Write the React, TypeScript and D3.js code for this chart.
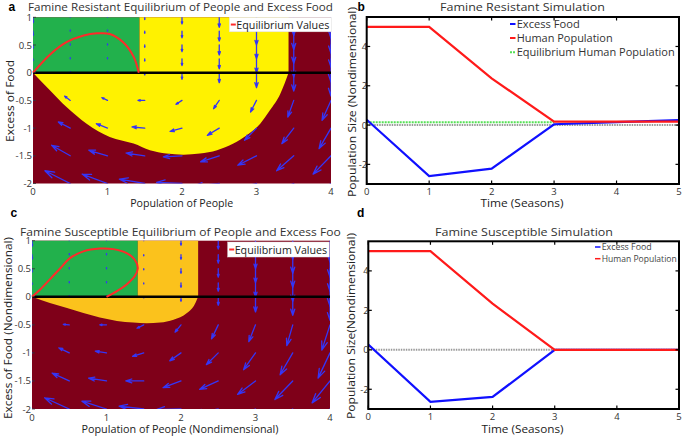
import React from "react";
import * as d3 from "d3";

const FONT = "'Open Sans', 'DejaVu Sans', Arial, sans-serif";

// ---- tick values ----
const phaseXTicks = [0, 1, 2, 3, 4];
const phaseYTicks = [1, 0.5, 0, -0.5, -1, -1.5, -2];
const simXTicks = [0, 1, 2, 3, 4, 5];
const simYTicks = [-2, 0, 2, 4];

// ---- simulation series ----
const seasons = [0, 1, 2, 3, 4, 5];
const resistantFood = [0.27, -2.6, -2.22, 0.04, 0.15, 0.25];
const resistantPeople = [5, 5, 2.38, 0.17, 0.17, 0.17];
const resistantEqSeasons = [0, 3];
const resistantEqPeople = [0.14, 0.14];
const susceptibleFood = [0.27, -2.64, -2.39, 0, 0, 0];
const susceptiblePeople = [5, 5, 2.34, 0, 0, 0];

// ---- phase plane regions ----
const resistantGreenEdge = 1.43;
const resistantYellowEdge = 3.43;
const resistantBasinX = [0, 0.23, 0.45, 0.72, 1.03, 1.35, 1.57, 1.79, 2.02, 2.24, 2.47, 2.69, 2.87, 3.05, 3.18, 3.32, 3.43];
const resistantBasinY = [0, -0.32, -0.62, -0.92, -1.16, -1.28, -1.4, -1.46, -1.48, -1.46, -1.4, -1.28, -1.13, -0.92, -0.68, -0.38, 0];
const resistantEqX = [0, 0.23, 0.45, 0.68, 0.86, 1.03, 1.21, 1.35, 1.42];
const resistantEqY = [0, 0.33, 0.55, 0.67, 0.71, 0.7, 0.55, 0.29, 0];

const susceptibleGreenEdge = 1.42;
const susceptibleOrangeEdge = 2.23;
const susceptibleBasinX = [0, 0.24, 0.47, 0.69, 0.91, 1.14, 1.36, 1.54, 1.72, 1.9, 2.08, 2.17, 2.23];
const susceptibleBasinY = [0, -0.11, -0.2, -0.29, -0.37, -0.43, -0.46, -0.47, -0.46, -0.41, -0.29, -0.17, 0];
const susceptibleEqX = [0, 0.11, 0.24, 0.38, 0.51, 0.69, 0.91, 1.09, 1.27, 1.38, 1.42, 1.38, 1.27, 1.14, 1.0];
const susceptibleEqY = [0, 0.13, 0.31, 0.51, 0.69, 0.81, 0.86, 0.85, 0.78, 0.66, 0.51, 0.37, 0.22, 0.1, 0];

// ---- quiver field ----
const fieldX = [0, 0.5, 1, 1.5, 2, 2.5, 3, 3.5, 4];
const fieldY = [1, 0.75, 0.5, 0.25, 0, -0.5, -1, -1.5, -2];
const resistantU = [
  [0, 0, 0, 0, 0, 0, 0, 0, 0],
  [0, 0, 0, 0, 0, 0, 0, 0, 0],
  [0, 0, 0, 0, 0, 0, 0, 0, 0],
  [0, 0, 0, 0, 0, 0, 0, 0, 0],
  [0, 0, 0, 0, 0, 0, 0, 0, 0],
  [-0.08, -0.076, -0.076, -0.09, -0.08, -0.076, -0.08, -0.08, -0.12],
  [-0.16, -0.16, -0.15, -0.17, -0.16, -0.16, -0.16, -0.16, -0.16],
  [-0.25, -0.25, -0.25, -0.25, -0.25, -0.25, -0.25, -0.23, -0.24],
  [-0.34, -0.34, -0.34, -0.34, -0.34, -0.34, -0.34, -0.34, -0.34],
];
const resistantV = [
  [-0.1, 0.02, 0.02, -0.04, -0.12, -0.18, -0.25, -0.33, -0.38],
  [-0.08, 0.02, 0.02, -0.04, -0.12, -0.18, -0.25, -0.33, -0.4],
  [-0.06, 0.02, 0.02, -0.04, -0.12, -0.18, -0.25, -0.33, -0.4],
  [-0.03, 0.02, 0.02, -0.04, -0.12, -0.18, -0.25, -0.33, -0.42],
  [0, 0.02, 0.02, -0.04, -0.12, -0.18, -0.27, -0.33, -0.42],
  [0.1, 0.078, 0.05, 0, -0.07, -0.15, -0.21, -0.3, -0.36],
  [0.14, 0.11, 0.08, 0.02, -0.06, -0.13, -0.22, -0.28, -0.37],
  [0.24, 0.19, 0.1, 0.05, -0.02, -0.11, -0.17, -0.27, -0.33],
  [0.3, 0.23, 0.17, 0.08, 0.02, -0.05, -0.12, -0.2, -0.28],
];
const susceptibleU = [
  [0, 0, 0, 0, 0, 0, 0, 0, 0],
  [0, 0, 0, 0, 0, 0, 0, 0, 0],
  [0, 0, 0, 0, 0, 0, 0, 0, 0],
  [0, 0, 0, 0, 0, 0, 0, 0, 0],
  [0, 0, 0, 0, 0, 0, 0, 0, 0],
  [-0.08, -0.08, -0.09, -0.09, -0.08, -0.09, -0.09, -0.08, -0.11],
  [-0.15, -0.14, -0.15, -0.15, -0.15, -0.16, -0.16, -0.17, -0.16],
  [-0.24, -0.23, -0.24, -0.24, -0.24, -0.25, -0.24, -0.24, -0.24],
  [-0.33, -0.33, -0.33, -0.33, -0.33, -0.33, -0.33, -0.33, -0.33],
];
const susceptibleV = [
  [-0.1, 0.02, 0.02, 0.02, -0.08, -0.15, -0.25, -0.33, -0.38],
  [-0.08, 0.02, 0.02, -0.02, -0.08, -0.15, -0.25, -0.33, -0.4],
  [-0.06, 0.02, 0.02, -0.02, -0.08, -0.15, -0.25, -0.33, -0.4],
  [-0.03, 0.02, 0.02, -0.02, -0.08, -0.15, -0.25, -0.33, -0.42],
  [0, 0.02, 0.02, -0.02, -0.08, -0.15, -0.27, -0.33, -0.42],
  [0.03, 0.01, 0, -0.06, -0.13, -0.25, -0.3, -0.37, -0.45],
  [0.13, 0.09, 0.03, -0.06, -0.14, -0.21, -0.3, -0.39, -0.45],
  [0.2, 0.14, 0.05, 0, -0.12, -0.15, -0.24, -0.33, -0.39],
  [0.27, 0.2, 0.14, 0.05, -0.01, -0.08, -0.16, -0.24, -0.32],
];

// ---- colors ----
const GREEN = "#22b14c";
const YELLOW = "#fff200";
const ORANGE = "#fbc21c";
const DARKRED = "#7f0019";
const ARROW = "#3535f5";

type Sc = d3.ScaleLinear<number, number>;

function Quiver({ sx, sy, U, V, id }: { sx: Sc; sy: Sc; U: number[][]; V: number[][]; id: string }) {
  const paths: string[] = [];
  fieldY.forEach((y, r) => {
    fieldX.forEach((x, c) => {
      const x0 = sx(x), y0 = sy(y);
      const x1 = sx(x + U[r][c]), y1 = sy(y + V[r][c]);
      const du = x1 - x0, dv = y1 - y0;
      const a = 0.33, b = 0.33;
      const h1x = x1 - a * (du + b * dv), h1y = y1 - a * (dv - b * du);
      const h2x = x1 - a * (du - b * dv), h2y = y1 - a * (dv + b * du);
      paths.push(`M${x0},${y0}L${x1},${y1}M${h1x},${h1y}L${x1},${y1}L${h2x},${h2y}`);
    });
  });
  return (
    <g clipPath={`url(#${id})`}>
      {paths.map((d, i) => (
        <path key={i} d={d} stroke={ARROW} strokeWidth={1.3} fill="none" strokeLinecap="round" strokeLinejoin="round" />
      ))}
    </g>
  );
}

function PhasePanel(props: {
  sx: Sc; sy: Sc; id: string; greenEdge: number; midEdge: number; midColor: string;
  basinX: number[]; basinY: number[]; eqX: number[]; eqY: number[]; U: number[][]; V: number[][];
  legend: { x: number; y: number; w: number; h: number };
}) {
  const { sx, sy, id, greenEdge, midEdge, midColor, basinX, basinY, eqX, eqY, U, V, legend } = props;
  const [x0, x1] = sx.range();
  const [yb, yt] = sy.range();
  const basin = d3.line<number>().x((d, i) => sx(basinX[i])).y((d, i) => sy(basinY[i])).curve(d3.curveMonotoneX)(basinX) + "Z";
  const eq = d3.line<number>().x((d, i) => sx(eqX[i])).y((d, i) => sy(eqY[i])).curve(d3.curveCatmullRom)(eqX) || "";
  return (
    <g>
      <defs>
        <clipPath id={id}>
          <rect x={x0} y={yt} width={x1 - x0} height={yb - yt} />
        </clipPath>
      </defs>
      <rect x={x0} y={yt} width={x1 - x0} height={yb - yt} fill={DARKRED} />
      <rect x={sx(0)} y={sy(1)} width={sx(greenEdge) - sx(0)} height={sy(0) - sy(1)} fill={GREEN} />
      <rect x={sx(greenEdge)} y={sy(1)} width={sx(midEdge) - sx(greenEdge)} height={sy(0) - sy(1)} fill={midColor} />
      <path d={basin} fill={midColor} />
      <Quiver sx={sx} sy={sy} U={U} V={V} id={id} />
      <line x1={x0} x2={x1} y1={sy(0)} y2={sy(0)} stroke="#000" strokeWidth={2.5} />
      <path d={eq} fill="none" stroke="#ff2a2a" strokeWidth={2} />
      {phaseXTicks.map((t) => (
        <text key={"x" + t} x={sx(t)} y={yb + 11.5} fontSize={9.5} textAnchor="middle" fill="#333" fontFamily={FONT}>{t}</text>
      ))}
      {phaseYTicks.map((t) => (
        <g key={"y" + t}>
          <line x1={x0} x2={x0 + 3} y1={sy(t)} y2={sy(t)} stroke="#333" strokeWidth={0.8} />
          <text x={x0 - 1} y={sy(t) + 3.5} fontSize={9.5} textAnchor="end" fill="#333" fontFamily={FONT}>{t}</text>
        </g>
      ))}
      <rect x={legend.x} y={legend.y} width={legend.w} height={legend.h} fill="#fff" stroke="#ddd" strokeWidth={0.5} />
      <line x1={legend.x + 1.5} x2={legend.x + 6.5} y1={legend.y + legend.h / 2} y2={legend.y + legend.h / 2} stroke="#ff2a2a" strokeWidth={2} />
      <text x={legend.x + 7} y={legend.y + legend.h / 2 + 4} fontSize={11} fill="#222" fontFamily={FONT} textLength={legend.w - 9} lengthAdjust="spacingAndGlyphs">Equilibrium Values</text>
    </g>
  );
}

function SimPanel(props: {
  sx: Sc; sy: Sc; id: string; food: number[]; people: number[]; eqT?: number[]; eqP?: number[];
}) {
  const { sx, sy, id, food, people, eqT, eqP } = props;
  const [x0, x1] = sx.range();
  const [yb, yt] = sy.range();
  const line = (xs: number[], ys: number[]) =>
    d3.line<number>().x((d, i) => sx(xs[i])).y((d, i) => sy(ys[i]))(xs) || "";
  return (
    <g>
      <defs>
        <clipPath id={id}>
          <rect x={x0} y={yt} width={x1 - x0} height={yb - yt} />
        </clipPath>
      </defs>
      <rect x={x0} y={yt} width={x1 - x0} height={yb - yt} fill="#fff" />
      <g clipPath={`url(#${id})`}>
        <line x1={x0} x2={x1} y1={sy(0)} y2={sy(0)} stroke="#999" strokeWidth={2} strokeDasharray="1.5,1" />
        {eqT && eqP ? (
          <path d={line(eqT, eqP)} fill="none" stroke="#55e055" strokeWidth={2} strokeDasharray="2,1" />
        ) : null}
        <path d={line(seasons, food)} fill="none" stroke="#1010ff" strokeWidth={2.2} />
        <path d={line(seasons, people)} fill="none" stroke="#ff1a1a" strokeWidth={2.2} />
      </g>
      <rect x={x0} y={yt} width={x1 - x0} height={yb - yt} fill="none" stroke="#000" strokeWidth={2} />
      {simXTicks.map((t) => (
        <g key={"x" + t}>
          <line x1={sx(t)} x2={sx(t)} y1={yb} y2={yb - 3.5} stroke="#000" strokeWidth={1.2} />
          <line x1={sx(t)} x2={sx(t)} y1={yt} y2={yt + 3.5} stroke="#000" strokeWidth={1.2} />
          <text x={sx(t)} y={yb + 10.5} fontSize={9.5} textAnchor="middle" fill="#333" fontFamily={FONT}>{t}</text>
        </g>
      ))}
      {simYTicks.map((t) => (
        <g key={"y" + t}>
          <line x1={x0} x2={x0 + 3.5} y1={sy(t)} y2={sy(t)} stroke="#000" strokeWidth={1.2} />
          <line x1={x1} x2={x1 - 3.5} y1={sy(t)} y2={sy(t)} stroke="#000" strokeWidth={1.2} />
          <text x={x0 + 0.5} y={sy(t) + 3.5} fontSize={9.5} textAnchor="end" fill="#333" fontFamily={FONT}>{t}</text>
        </g>
      ))}
    </g>
  );
}

export default function App() {
  const xA = d3.scaleLinear().domain([0, 4]).range([33, 331]);
  const yA = d3.scaleLinear().domain([-2, 1]).range([183.5, 17.3]);
  const xB = d3.scaleLinear().domain([0, 5]).range([366.7, 679]);
  const yB = d3.scaleLinear().domain([-3, 5.5]).range([184, 17]);
  const xC = d3.scaleLinear().domain([0, 4]).range([32, 330]);
  const yC = d3.scaleLinear().domain([-2, 1]).range([409, 240.7]);
  const xD = d3.scaleLinear().domain([0, 5]).range([368.3, 679]);
  const yD = d3.scaleLinear().domain([-3, 5.5]).range([409, 241.3]);

  const txt = (s: string, x: number, y: number, opts: any = {}) => (
    <text x={x} y={y} fontFamily={FONT} fill="#222" fontSize={10} {...opts}>{s}</text>
  );
  const letter = { fontFamily: "Arial, 'Liberation Sans', sans-serif", fontWeight: "bold", fontSize: 12, fill: "#000" };

  return (
    <svg width={685} height={436} style={{ position: "absolute", left: 0, top: 0, background: "#fff" }}>
      <defs>
        <clipPath id="titleClip">
          <rect x={0} y={218} width={341} height={30} />
        </clipPath>
      </defs>
      <rect x={0} y={0} width={685} height={436} fill="#fff" />
      <PhasePanel sx={xA} sy={yA} id="clipA" greenEdge={resistantGreenEdge} midEdge={resistantYellowEdge} midColor={YELLOW}
        basinX={resistantBasinX} basinY={resistantBasinY} eqX={resistantEqX} eqY={resistantEqY} U={resistantU} V={resistantV}
        legend={{ x: 229.3, y: 17.3, w: 102, h: 14.5 }} />
      <PhasePanel sx={xC} sy={yC} id="clipC" greenEdge={susceptibleGreenEdge} midEdge={susceptibleOrangeEdge} midColor={ORANGE}
        basinX={susceptibleBasinX} basinY={susceptibleBasinY} eqX={susceptibleEqX} eqY={susceptibleEqY} U={susceptibleU} V={susceptibleV}
        legend={{ x: 227.7, y: 242, w: 101.5, h: 15 }} />
      <SimPanel sx={xB} sy={yB} id="clipB" food={resistantFood} people={resistantPeople} eqT={resistantEqSeasons} eqP={resistantEqPeople} />
      <SimPanel sx={xD} sy={yD} id="clipD" food={susceptibleFood} people={susceptiblePeople} />

      {/* panel letters */}
      {txt("a", 8.5, 10.5, letter)}
      {txt("b", 357.5, 10.5, letter)}
      {txt("c", 10.5, 216.5, letter)}
      {txt("d", 357, 216.5, letter)}

      {/* titles */}
      {txt("Famine Resistant Equilibrium of People and Excess Food", 28, 10.5, { fontSize: 11, textLength: 305, lengthAdjust: "spacingAndGlyphs", fill: "#333" })}
      {txt("Famine Resistant Simulation", 440, 11, { fontSize: 11, textLength: 165, lengthAdjust: "spacingAndGlyphs", fill: "#333" })}
      <g clipPath="url(#titleClip)">
        {txt("Famine Susceptible Equilibrium of People and Excess Food", 20, 235.5, { fontSize: 11, textLength: 328, lengthAdjust: "spacingAndGlyphs", fill: "#333" })}
      </g>
      {txt("Famine Susceptible Simulation", 435, 235.5, { fontSize: 11, textLength: 178, lengthAdjust: "spacingAndGlyphs", fill: "#333" })}

      {/* x labels */}
      {txt("Population of People", 181.7, 207, { textAnchor: "middle", textLength: 103, lengthAdjust: "spacingAndGlyphs" })}
      {txt("Time (Seasons)", 522, 206.5, { textAnchor: "middle", textLength: 83, lengthAdjust: "spacingAndGlyphs" })}
      {txt("Population of People (Nondimensional)", 180, 433, { textAnchor: "middle", textLength: 197, lengthAdjust: "spacingAndGlyphs" })}
      {txt("Time (Seasons)", 522.5, 433, { textAnchor: "middle", textLength: 82, lengthAdjust: "spacingAndGlyphs" })}

      {/* y labels */}
      <g transform="translate(13.5,101) rotate(-90)">
        {txt("Excess of Food", 0, 0, { textAnchor: "middle", textLength: 82, lengthAdjust: "spacingAndGlyphs" })}
      </g>
      <g transform="translate(355.5,102) rotate(-90)">
        {txt("Population Size (Nondimensional)", 0, 0, { textAnchor: "middle", textLength: 190, lengthAdjust: "spacingAndGlyphs" })}
      </g>
      <g transform="translate(12,328) rotate(-90)">
        {txt("Excess of Food (Nondimensional)", 0, 0, { textAnchor: "middle", textLength: 182, lengthAdjust: "spacingAndGlyphs" })}
      </g>
      <g transform="translate(355,326) rotate(-90)">
        {txt("Population Size(Nondimensional)", 0, 0, { textAnchor: "middle", textLength: 186, lengthAdjust: "spacingAndGlyphs" })}
      </g>

      {/* legend b */}
      <line x1={510} x2={515.5} y1={24} y2={24} stroke="#1010ff" strokeWidth={2} />
      {txt("Excess Food", 516.7, 28, { fontSize: 10.5, textLength: 63, lengthAdjust: "spacingAndGlyphs", fill: "#333" })}
      <line x1={510} x2={515.5} y1={38} y2={38} stroke="#ff1a1a" strokeWidth={2} />
      {txt("Human Population", 516.7, 42, { fontSize: 10.5, textLength: 96, lengthAdjust: "spacingAndGlyphs", fill: "#333" })}
      <line x1={510} x2={515.5} y1={52.3} y2={52.3} stroke="#55e055" strokeWidth={2} strokeDasharray="2,1" />
      {txt("Equilibrium Human Population", 516.7, 56.3, { fontSize: 10.5, textLength: 158, lengthAdjust: "spacingAndGlyphs", fill: "#333" })}

      {/* legend d */}
      <line x1={595} x2={600.5} y1={247} y2={247} stroke="#1010ff" strokeWidth={1.5} />
      {txt("Excess Food", 601.7, 250.3, { fontSize: 9, textLength: 50, lengthAdjust: "spacingAndGlyphs", fill: "#444" })}
      <line x1={595} x2={600.5} y1={258.7} y2={258.7} stroke="#ff1a1a" strokeWidth={1.5} />
      {txt("Human Population", 601.7, 262, { fontSize: 9, textLength: 75, lengthAdjust: "spacingAndGlyphs", fill: "#444" })}
    </svg>
  );
}
